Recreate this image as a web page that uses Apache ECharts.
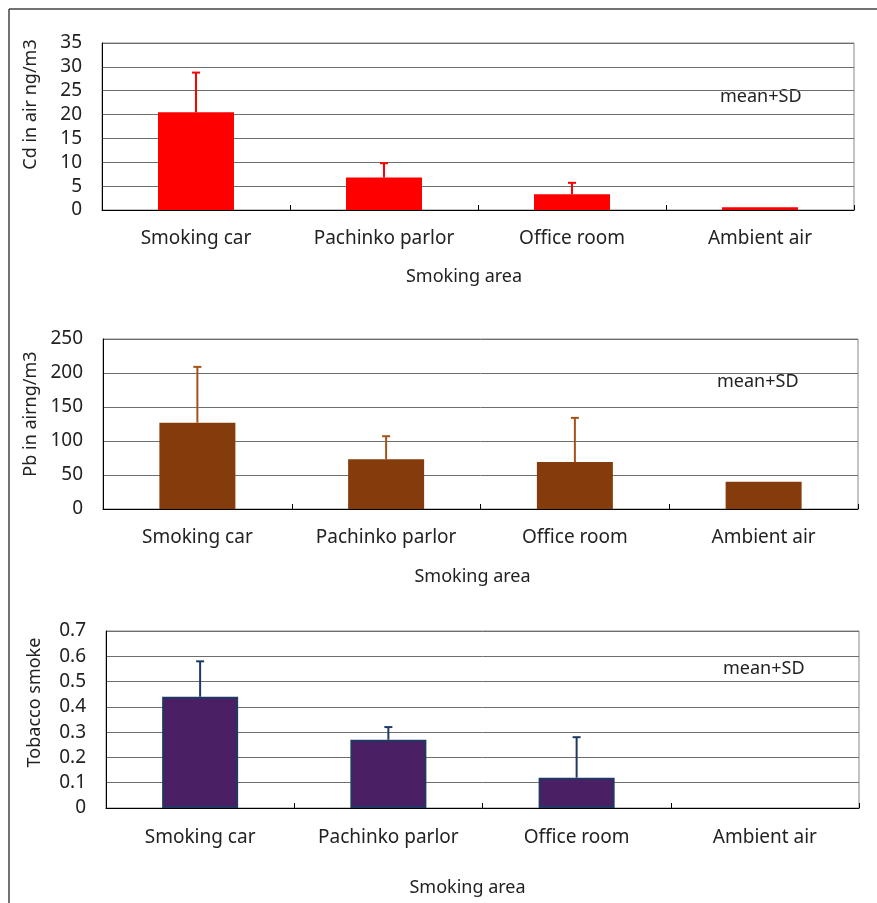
<!DOCTYPE html>
<html>
<head>
<meta charset="utf-8">
<script src="https://cdn.jsdelivr.net/npm/echarts@6/dist/echarts.min.js"></script>
<style>
  html, body { margin: 0; padding: 0; background: #fff; }
  #chart { width: 877px; height: 903px; }
</style>
</head>
<body>
<div id="chart"></div>
<script>
const categories = ['Smoking car', 'Pachinko parlor', 'Office room', 'Ambient air']

// Cd in air (ng/m3)
const cdMean = [20.5, 6.8, 3.3, 0.6]
const cdSD = [8.3, 3.0, 2.4, null]
// Pb in air (ng/m3)
const pbMean = [127, 73, 69, 40]
const pbSD = [82, 34, 65, null]
// Tobacco smoke
const tobMean = [0.44, 0.27, 0.12, 0]
const tobSD = [0.14, 0.05, 0.16, null]

const font = '"Noto Sans", sans-serif'
const textColor = '#222'

// 每个图的位置
const grids = [
  { left: 102, top: 43, width: 752, height: 167 },
  { left: 103, top: 339, width: 755, height: 170 },
  { left: 106, top: 631, width: 753, height: 177 },
]

const panels = [
  { name: 'Cd in air ng/m3', max: 35, interval: 5, mean: cdMean, sd: cdSD, color: '#FF0000', border: '#FF0000', bw: 0, err: '#FF0000', namePad: 44, xPad: 28, xGap: 58, labelGap: 19 },
  { name: 'Pb in airng/m3', max: 250, interval: 50, mean: pbMean, sd: pbSD, color: '#843C0C', border: '#843C0C', bw: 0, err: '#A4521A', namePad: 20, xPad: 16, xGap: 59, labelGap: 19 },
  { name: 'Tobacco smoke', max: 0.7, interval: 0.1, mean: tobMean, sd: tobSD, color: '#4B1F63', border: '#1F3864', bw: 2, err: '#1F3864', namePad: 34, xPad: 30, xGap: 71, labelGap: 20 },
]

function errorBar(color) {
  return function (params, api) {
    const sd = api.value(2)
    if (sd === null || isNaN(sd)) return null
    const x = api.value(0)
    const m = api.value(1)
    const p0 = api.coord([x, m])
    const p1 = api.coord([x, m + sd])
    const cap = 4
    return {
      type: 'group',
      children: [
        { type: 'line', shape: { x1: p0[0], y1: p0[1], x2: p1[0], y2: p1[1] }, style: { stroke: color, lineWidth: 2 } },
        { type: 'line', shape: { x1: p1[0] - cap, y1: p1[1], x2: p1[0] + cap, y2: p1[1] }, style: { stroke: color, lineWidth: 2 } },
      ],
    }
  }
}

const option = {
  animation: false,
  graphic: [
    { type: 'line', shape: { x1: 9, y1: 9, x2: 877, y2: 9 }, style: { stroke: '#444', lineWidth: 1.5 } },
    { type: 'line', shape: { x1: 9, y1: 9, x2: 9, y2: 903 }, style: { stroke: '#444', lineWidth: 1.5 } },
    { type: 'text', left: 720, top: 88, style: { text: 'mean+SD', font: '18px ' + font, fill: textColor } },
    { type: 'text', left: 717, top: 373, style: { text: 'mean+SD', font: '18px ' + font, fill: textColor } },
    { type: 'text', left: 723, top: 660, style: { text: 'mean+SD', font: '18px ' + font, fill: textColor } },
  ],
  grid: grids.map(g => Object.assign({ show: true, borderColor: '#888', borderWidth: 1, containLabel: false }, g)),
  xAxis: panels.map((p, i) => ({
    type: 'category',
    gridIndex: i,
    data: categories,
    name: 'Smoking area',
    nameLocation: 'middle',
    nameGap: p.xGap,
    nameTextStyle: { fontFamily: font, fontSize: 18, color: textColor, padding: [0, p.xPad, 0, 0] },
    axisLine: { show: true, lineStyle: { color: '#000', width: 1 } },
    axisTick: { show: true, inside: true, length: 5, interval: 0, lineStyle: { color: '#000' } },
    axisLabel: { fontFamily: font, fontSize: 19, color: textColor, margin: p.labelGap, interval: 0 },
    splitLine: { show: false },
  })),
  yAxis: panels.map((p, i) => ({
    type: 'value',
    gridIndex: i,
    min: 0,
    max: p.max,
    interval: p.interval,
    name: p.name,
    nameLocation: 'middle',
    nameRotate: 90,
    nameGap: 62,
    nameTextStyle: { fontFamily: font, fontSize: 18, color: textColor, padding: [0, 0, 0, p.namePad] },
    axisLine: { show: true, lineStyle: { color: '#000', width: 1 } },
    axisTick: { show: false },
    axisLabel: { fontFamily: font, fontSize: 19, color: textColor, margin: 20 },
    splitLine: { show: true, lineStyle: { color: '#6e6e6e', width: 1 } },
  })),
  series: [],
}

panels.forEach((p, i) => {
  option.series.push({
    type: 'bar',
    xAxisIndex: i,
    yAxisIndex: i,
    // 值为0的柱子不画边框
    data: p.mean.map(v => ({ value: v, itemStyle: { borderWidth: v === 0 ? 0 : p.bw } })),
    barWidth: 76,
    itemStyle: { color: p.color, borderColor: p.border, borderWidth: p.bw },
  })
  option.series.push({
    type: 'custom',
    xAxisIndex: i,
    yAxisIndex: i,
    renderItem: errorBar(p.err),
    encode: { x: 0, y: 1 },
    data: p.mean.map((m, k) => [k, m, p.sd[k] === null ? NaN : p.sd[k]]),
    z: 3,
  })
})

const chart = echarts.init(document.getElementById('chart'))
chart.setOption(option)
</script>
</body>
</html>
